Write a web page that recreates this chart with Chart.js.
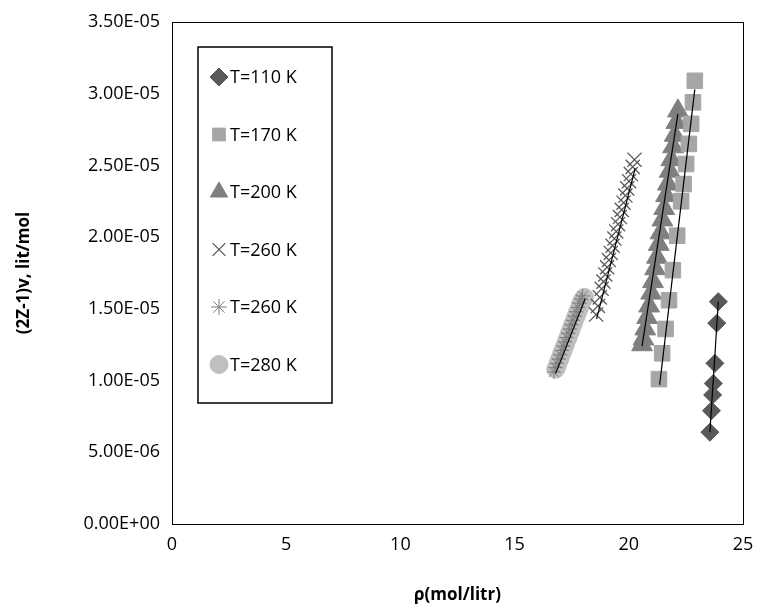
<!DOCTYPE html>
<html><head><meta charset="utf-8">
<script src="https://cdn.jsdelivr.net/npm/chart.js@4/dist/chart.umd.min.js"></script>
<style>html,body{margin:0;background:#fff}#wrap{width:764px;height:613px}</style>
</head><body><div id="wrap"><canvas id="c"></canvas></div>
<script>
// values in 1e-6 lit/mol
let x110=[23.92,23.85,23.77,23.70,23.67,23.62,23.55];
let y110=[15.5,14.0,11.2,9.8,9.0,7.9,6.4];
let x170=[22.89,22.81,22.73,22.63,22.51,22.40,22.29,22.12,21.93,21.76,21.61,21.46,21.32];
let y170=[30.9,29.4,27.9,26.5,25.1,23.7,22.5,20.1,17.7,15.6,13.6,11.9,10.1];
let x200=[22.15,22.08,22.01,21.94,21.86,21.79,21.71,21.63,21.55,21.47,21.39,21.31,21.23,21.15,21.06,20.98,20.89,20.80,20.72,20.64,20.58];
let y200=[28.8,28.0,27.1,26.3,25.4,24.6,23.7,22.9,22.0,21.2,20.3,19.5,18.6,17.8,16.9,16.1,15.2,14.4,13.6,12.9,12.5];
let x260a=[20.25,20.17,20.09,20.01,19.93,19.85,19.77,19.69,19.61,19.53,19.45,19.37,19.29,19.21,19.13,19.05,18.97,18.89,18.81,18.73,18.65,18.57];
let y260a=[25.4,24.9,24.4,23.9,23.4,22.9,22.4,21.9,21.4,20.9,20.4,19.9,19.4,18.9,18.4,17.9,17.4,16.9,16.4,15.8,15.2,14.6];
let x260b=[16.72,16.79,16.86,16.93,17.00,17.07,17.14,17.21,17.28,17.35,17.42,17.49,17.56,17.63,17.70,17.77,17.84,17.91,17.98];
let y260b=[10.6,10.9,11.2,11.5,11.8,12.1,12.4,12.7,13.0,13.3,13.6,13.9,14.2,14.5,14.8,15.1,15.4,15.7,15.9];
let x280=[16.80,16.86,16.92,16.98,17.04,17.10,17.16,17.22,17.28,17.34,17.40,17.46,17.52,17.58,17.64,17.70,17.76,17.82,17.88,17.94,18.00,18.06];
let y280=[10.8,11.0,11.3,11.5,11.8,12.0,12.3,12.5,12.8,13.0,13.3,13.5,13.8,14.0,14.3,14.5,14.8,15.0,15.3,15.5,15.7,15.8];
let fits=[[23.92,15.5,23.55,6.4],[22.89,30.3,21.35,9.7],[22.15,28.6,20.58,12.4],[20.28,24.8,18.59,14.3],[18.09,15.7,16.80,10.5]];
let labels=["T=110 K","T=170 K","T=200 K","T=260 K","T=260 K","T=280 K"];

const FONT='"Open Sans", "Liberation Sans", sans-serif';
const pts=(xs,ys)=>xs.map((x,i)=>({x:x,y:ys[i]*1e-6}));
let series=[
 {data:pts(x110,y110),pointStyle:'rectRot',pointRadius:9,backgroundColor:'#595959',borderColor:'#595959'},
 {data:pts(x170,y170),pointStyle:'rect',pointRadius:11,backgroundColor:'#a6a6a6',borderColor:'#a6a6a6'},
 {data:pts(x200,y200),pointStyle:'triangle',pointRadius:12,backgroundColor:'#7f7f7f',borderColor:'#7f7f7f'},
 {data:pts(x260a,y260a),pointStyle:'crossRot',pointRadius:10,backgroundColor:'#595959',borderColor:'#595959',borderWidth:1.3},
 {data:pts(x260b,y260b),pointStyle:'star',pointRadius:7,backgroundColor:'#7f7f7f',borderColor:'#7f7f7f',borderWidth:1},
 {data:pts(x280,y280),pointStyle:'circle',pointRadius:9,backgroundColor:'#bfbfbf',borderColor:'#bfbfbf'}
];
let datasets=series.map((s,i)=>Object.assign({label:labels[i],showLine:false,order:2},s));
fits.forEach(f=>datasets.push({label:'fit',data:[{x:f[0],y:f[1]*1e-6},{x:f[2],y:f[3]*1e-6}],showLine:true,pointRadius:0,borderColor:'#000',borderWidth:1.2,order:1}));

function fmtE(v){
  if(Math.abs(v)<1e-12) return '0.00E+00';
  let s=v.toExponential(2).split('e');
  let e=parseInt(s[1]);
  return s[0]+'E'+(e<0?'-':'+')+String(Math.abs(e)).padStart(2,'0');
}

const frame={id:'frame',afterDatasetsDraw(ch){
  let a=ch.chartArea,c=ch.ctx;
  c.save();c.strokeStyle='#000';c.lineWidth=1;
  c.strokeRect(a.left+0.5,a.top+0.5,a.right-a.left,a.bottom-a.top);
  // legend box
  let lx=198,ly=47,lw=134,lh=356;
  c.fillStyle='#fff';c.fillRect(lx,ly,lw,lh);
  c.lineWidth=1.5;c.strokeRect(lx,ly,lw,lh);
  c.font='18px '+FONT;c.textBaseline='middle';
  series.forEach((s,i)=>{
    let cy=ly+30+i*57.5,cx=lx+21;
    c.fillStyle=s.backgroundColor;c.strokeStyle=s.borderColor;c.lineWidth=s.borderWidth||1;
    let r={rectRot:9,rect:9,triangle:10,crossRot:9,star:8,circle:9}[s.pointStyle];
    Chart.helpers.drawPoint(c,{pointStyle:s.pointStyle,radius:r,borderWidth:s.borderWidth||1,rotation:0},cx,cy);
    c.fillStyle='#000';c.fillText(labels[i],lx+32,cy+1);
  });
  c.restore();
}};

new Chart(document.getElementById('c'),{
  type:'scatter',
  data:{datasets:datasets},
  plugins:[frame],
  options:{
    responsive:true,maintainAspectRatio:false,animation:false,
    layout:{padding:{top:22,right:21,left:10,bottom:4}},
    plugins:{legend:{display:false},tooltip:{enabled:false}},
    scales:{
      x:{type:'linear',min:0,max:25,
        ticks:{stepSize:5,color:'#000',padding:4,font:{size:18,family:FONT}},
        grid:{display:false,drawTicks:true,tickLength:6},border:{color:'#000'},
        title:{display:true,text:'ρ(mol/litr)',color:'#000',padding:{top:12},font:{size:17,weight:'bold',family:FONT}},
        afterFit(s){s.height=85;}},
      y:{min:0,max:3.5e-5,
        ticks:{stepSize:5e-6,color:'#000',padding:6,callback:v=>fmtE(v),font:{size:18,family:FONT}},
        grid:{display:false,tickLength:6},border:{color:'#000'},
        title:{display:true,text:'(2Z-1)v, lit/mol',color:'#000',padding:{bottom:4},font:{size:17,weight:'bold',family:FONT}},
        afterFit(s){s.width=162;}}
    }
  }
});
</script></body></html>
